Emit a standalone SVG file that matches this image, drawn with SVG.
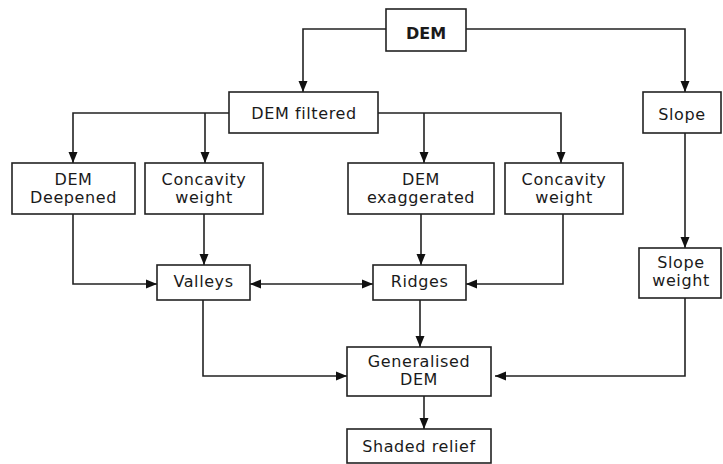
<svg xmlns="http://www.w3.org/2000/svg" width="723" height="464" viewBox="0 0 723 464">
<style>
  .box { fill: #ffffff; stroke: #222222; stroke-width: 1.6; }
  .lbl { font-family: "DejaVu Sans", "Liberation Sans", sans-serif; font-size: 16px; fill: #1a1a1a; text-anchor: middle; letter-spacing: 0.6px; }
  .bold { font-weight: bold; letter-spacing: 0; }
  .conn path { fill: none; stroke: #222222; stroke-width: 1.6; }
</style>
<defs>
  <marker id="arr" markerUnits="userSpaceOnUse" markerWidth="12" markerHeight="12" viewBox="0 0 12 12" refX="11" refY="6" orient="auto-start-reverse">
    <path d="M0,1.5 L11,6 L0,10.5 Z" fill="#111111"/>
  </marker>
</defs>
<rect width="723" height="464" fill="#ffffff"/>
<g id="connectors" class="conn">
  <path d="M386,29 H303 V92" marker-end="url(#arr)"/>
  <path d="M466,29 H685 V92" marker-end="url(#arr)"/>
  <path d="M229,113 H73 V163" marker-end="url(#arr)"/>
  <path d="M205,113 V163" marker-end="url(#arr)"/>
  <path d="M378,113 H561 V163" marker-end="url(#arr)"/>
  <path d="M424,113 V163" marker-end="url(#arr)"/>
  <path d="M73,214 V284 H157" marker-end="url(#arr)"/>
  <path d="M204,214 V265" marker-end="url(#arr)"/>
  <path d="M250,284 H373" marker-start="url(#arr)" marker-end="url(#arr)"/>
  <path d="M421,214 V265" marker-end="url(#arr)"/>
  <path d="M563,214 V284 H466" marker-end="url(#arr)"/>
  <path d="M685,133 V248" marker-end="url(#arr)"/>
  <path d="M203,300 V376 H347" marker-end="url(#arr)"/>
  <path d="M420,300 V347" marker-end="url(#arr)"/>
  <path d="M685,298 V376 H495" marker-end="url(#arr)"/>
  <path d="M424,396 V429" marker-end="url(#arr)"/>
</g>
<g id="dem">
  <rect class="box" x="386" y="9" width="80" height="42"/>
  <text class="lbl bold" x="426" y="39">DEM</text>
</g>
<g id="dem-filtered">
  <rect class="box" x="229" y="92" width="149" height="41"/>
  <text class="lbl" x="304" y="119">DEM filtered</text>
</g>
<g id="slope">
  <rect class="box" x="643" y="92" width="78" height="41"/>
  <text class="lbl" x="682" y="120">Slope</text>
</g>
<g id="dem-deepened">
  <rect class="box" x="12" y="163" width="123" height="51"/>
  <text class="lbl" x="73.5" y="185">DEM</text>
  <text class="lbl" x="73.5" y="203">Deepened</text>
</g>
<g id="concavity-weight-1">
  <rect class="box" x="145" y="163" width="118" height="51"/>
  <text class="lbl" x="204" y="185">Concavity</text>
  <text class="lbl" x="204" y="203">weight</text>
</g>
<g id="dem-exaggerated">
  <rect class="box" x="348" y="163" width="146" height="51"/>
  <text class="lbl" x="421" y="185">DEM</text>
  <text class="lbl" x="421" y="203">exaggerated</text>
</g>
<g id="concavity-weight-2">
  <rect class="box" x="505" y="163" width="118" height="51"/>
  <text class="lbl" x="564" y="185">Concavity</text>
  <text class="lbl" x="564" y="203">weight</text>
</g>
<g id="valleys">
  <rect class="box" x="157" y="265" width="93" height="35"/>
  <text class="lbl" x="203.5" y="287">Valleys</text>
</g>
<g id="ridges">
  <rect class="box" x="373" y="265" width="93" height="35"/>
  <text class="lbl" x="419.5" y="287">Ridges</text>
</g>
<g id="slope-weight">
  <rect class="box" x="639" y="248" width="82" height="50"/>
  <text class="lbl" x="681" y="268">Slope</text>
  <text class="lbl" x="681" y="286">weight</text>
</g>
<g id="generalised-dem">
  <rect class="box" x="347" y="347" width="144" height="49"/>
  <text class="lbl" x="419" y="367">Generalised</text>
  <text class="lbl" x="419" y="385">DEM</text>
</g>
<g id="shaded-relief">
  <rect class="box" x="347" y="429" width="144" height="34"/>
  <text class="lbl" x="419" y="452">Shaded relief</text>
</g>
</svg>
